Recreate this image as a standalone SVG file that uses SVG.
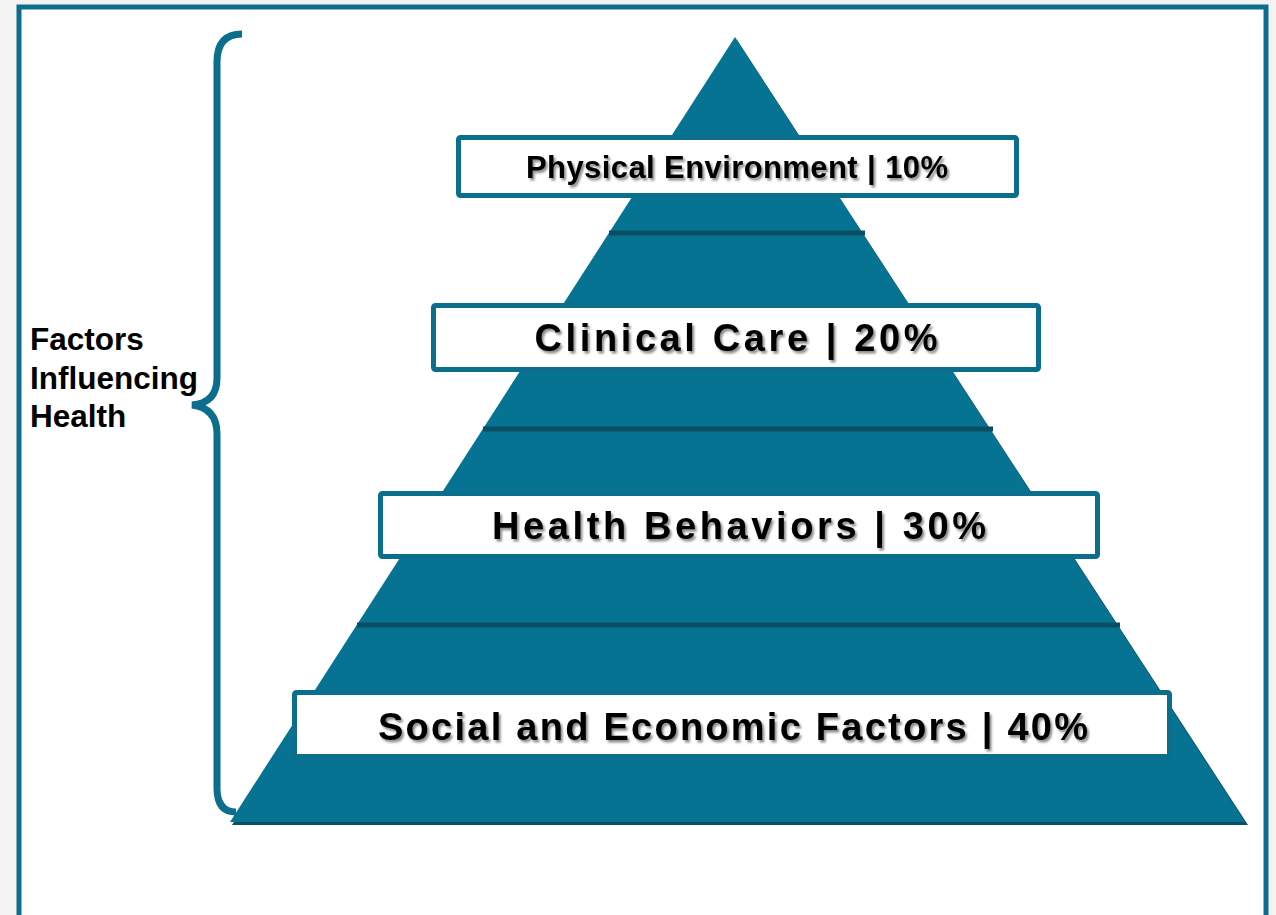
<svg xmlns="http://www.w3.org/2000/svg" width="1276" height="915" viewBox="0 0 1276 915">
  <defs>
    <filter id="ts" x="-5%" y="-30%" width="110%" height="160%">
      <feDropShadow dx="2" dy="2.5" stdDeviation="1.2" flood-color="#000" flood-opacity="0.45"/>
    </filter>
    <style>
      .frame{fill:#ffffff;stroke:#0b6e8c;stroke-width:5}
      .pyr{fill:#077393}
      .pyrsh{fill:#0a4e63}
      .band{stroke:#0a4e63;stroke-width:5}
      .box{fill:#ffffff;stroke:#0b6e8c;stroke-width:5}
      .lbl{font-family:"Liberation Sans",Arial,sans-serif;font-weight:bold;fill:#000;text-anchor:middle}
      .side{font-family:"Liberation Sans",Arial,sans-serif;font-weight:bold;font-size:31.5px;fill:#000}
      .brace{fill:none;stroke:#0b6e8c;stroke-width:7;stroke-linecap:butt}
    </style>
  </defs>
  <rect x="0" y="0" width="1276" height="915" fill="#f3f3f3"/>
  <rect class="frame" x="19" y="7" width="1247" height="930"/>

  <g id="pyramid">
    <polygon class="pyrsh" points="737,40 232,825 1248,825"/>
    <polygon class="pyr" points="735,37 230,822 1245,822"/>
    <line class="band" x1="609" y1="233" x2="865" y2="233"/>
    <line class="band" x1="483" y1="429" x2="993" y2="429"/>
    <line class="band" x1="357" y1="625" x2="1120" y2="625"/>
  </g>

  <g id="connectors">
    <path class="brace" d="M242,34 Q217,34 217,62 L217,378 Q217,403 192,405 Q217,408 217,434 L217,788 Q217,812 236,812"/>
  </g>

  <g id="side-label">
    <text class="side" x="30" y="350">Factors</text>
    <text class="side" x="30" y="389">Influencing</text>
    <text class="side" x="30" y="427">Health</text>
  </g>

  <g id="node-physical">
    <rect class="box" x="458.5" y="137.5" width="558" height="58" rx="2"/>
    <text class="lbl" x="737" y="178" font-size="31" textLength="422" lengthAdjust="spacing" filter="url(#ts)">Physical Environment | 10%</text>
  </g>

  <g id="node-clinical">
    <rect class="box" x="433.5" y="305.5" width="605" height="64" rx="2"/>
    <text class="lbl" x="736" y="351" font-size="38" textLength="403" lengthAdjust="spacing" filter="url(#ts)">Clinical Care | 20%</text>
  </g>

  <g id="node-behaviors">
    <rect class="box" x="380.5" y="493.5" width="717" height="63" rx="2"/>
    <text class="lbl" x="739" y="539" font-size="38" textLength="494" lengthAdjust="spacing" filter="url(#ts)">Health Behaviors | 30%</text>
  </g>

  <g id="node-social">
    <rect class="box" x="294.5" y="692.5" width="875" height="64" rx="2"/>
    <text class="lbl" x="733" y="740" font-size="38" textLength="710" lengthAdjust="spacing" filter="url(#ts)">Social and Economic Factors | 40%</text>
  </g>
</svg>
